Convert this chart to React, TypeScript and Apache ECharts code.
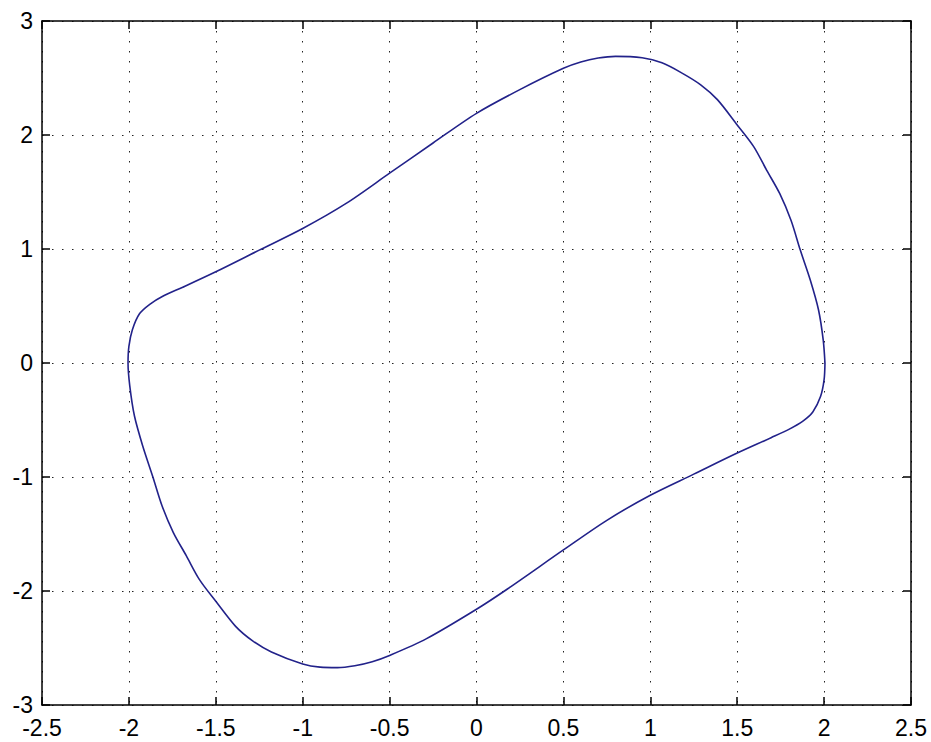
import React, { useEffect, useRef } from "react";
import * as echarts from "echarts";

// Limit-cycle trajectory (x, y), in drawing order
const cycleX = [
  2.005, 2.0, 1.98, 1.935, 1.878, 1.8, 1.695, 1.5, 1.25, 1.0, 0.75, 0.5, 0.18, 0,
  -0.29, -0.5, -0.6, -0.7, -0.8, -0.9, -1.0, -1.18, -1.29, -1.386, -1.5, -1.594,
  -1.67, -1.745, -1.81, -1.862, -1.92, -1.968, -1.995, -2.005, -2.0, -1.98, -1.94,
  -1.88, -1.8, -1.69, -1.5, -1.25, -1.0, -0.75, -0.5, -0.25, 0, 0.252, 0.5, 0.6,
  0.7, 0.8, 0.953, 1.067, 1.18, 1.29, 1.386, 1.5, 1.594, 1.67, 1.745, 1.81, 1.862,
  1.92, 1.968, 1.995, 2.005,
];
const cycleY = [
  0, -0.146, -0.292, -0.43, -0.51, -0.58, -0.655, -0.79, -0.975, -1.16, -1.38,
  -1.64, -1.98, -2.16, -2.42, -2.565, -2.62, -2.655, -2.672, -2.668, -2.64, -2.535,
  -2.435, -2.31, -2.09, -1.9, -1.69, -1.485, -1.25, -1.0, -0.73, -0.465, -0.2, 0,
  0.146, 0.292, 0.43, 0.515, 0.59, 0.665, 0.8, 0.99, 1.18, 1.4, 1.665, 1.93, 2.19,
  2.4, 2.585, 2.64, 2.675, 2.69, 2.677, 2.633, 2.545, 2.44, 2.31, 2.088, 1.9, 1.69,
  1.485, 1.25, 0.995, 0.73, 0.465, 0.2, 0,
];

const xMin = -2.5;
const xMax = 2.5;
const xStep = 0.5;
const yMin = -3;
const yMax = 3;
const yStep = 1;

export default function App() {
  const ref = useRef<HTMLDivElement>(null);

  useEffect(() => {
    if (!ref.current) return;
    const chart = echarts.init(ref.current, undefined, { renderer: "svg" });
    const data = cycleX.map((x, i) => [x, cycleY[i]]);
    const font = "'Liberation Sans', Arial, Helvetica, sans-serif";
    const frame = { show: true, onZero: false, lineStyle: { color: "#000", width: 1.5 } };
    const tick = { show: true, inside: true, length: 8, lineStyle: { color: "#000", width: 1.5 } };
    const grid = {
      show: true,
      lineStyle: { color: "#222", width: 1, type: [1.5, 8.5] as any },
    };
    const xLabel = { show: true, color: "#000", fontSize: 23, fontFamily: font, margin: 11 };
    const yLabel = { show: true, color: "#000", fontSize: 23, fontFamily: font, margin: 9 };

    chart.setOption({
      animation: false,
      backgroundColor: "#fff",
      grid: { left: 42, right: 20, top: 21, bottom: 37, containLabel: false },
      xAxis: [
        {
          type: "value", min: xMin, max: xMax, interval: xStep, position: "bottom",
          axisLine: frame, axisTick: tick, splitLine: grid, axisLabel: xLabel,
        },
        {
          type: "value", min: xMin, max: xMax, interval: xStep, position: "top",
          axisLine: frame, axisTick: tick, splitLine: { show: false }, axisLabel: { show: false },
        },
      ],
      yAxis: [
        {
          type: "value", min: yMin, max: yMax, interval: yStep, position: "left",
          axisLine: frame, axisTick: tick, splitLine: grid, axisLabel: yLabel,
        },
        {
          type: "value", min: yMin, max: yMax, interval: yStep, position: "right",
          axisLine: frame, axisTick: tick, splitLine: { show: false }, axisLabel: { show: false },
        },
      ],
      series: [
        {
          type: "line",
          data,
          xAxisIndex: 0,
          yAxisIndex: 0,
          showSymbol: false,
          smooth: 0.3,
          lineStyle: { color: "#22228a", width: 1.6 },
        },
      ],
    });
    return () => chart.dispose();
  }, []);

  return (
    <div
      ref={ref}
      style={{ position: "fixed", left: 0, top: 0, width: 931, height: 742, background: "#fff" }}
    />
  );
}
